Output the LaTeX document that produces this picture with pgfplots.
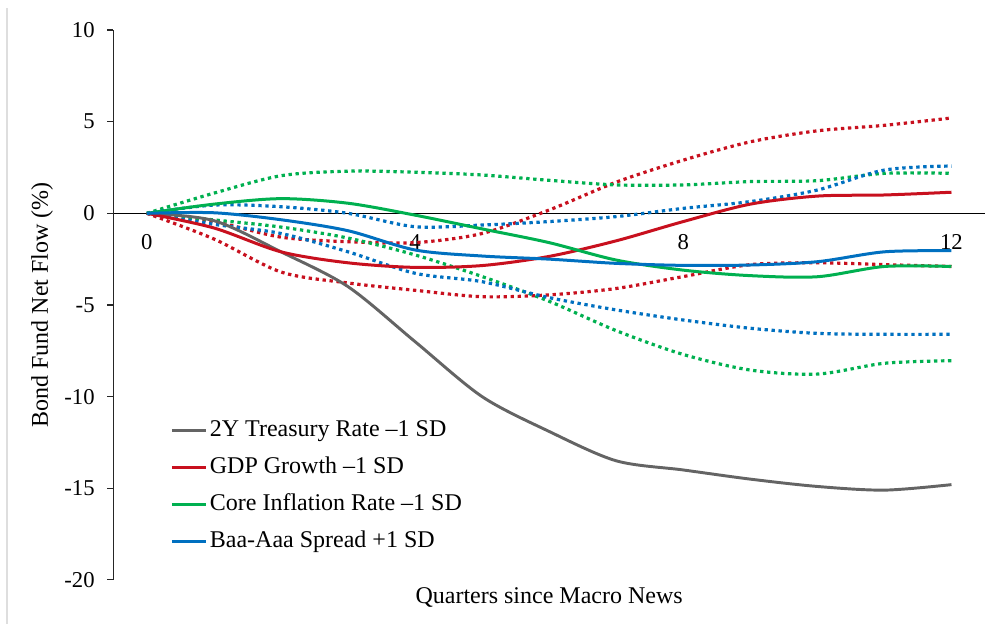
\documentclass[border=0pt]{standalone}
\usepackage{fontspec}
\setmainfont{Liberation Serif}
\usepackage{pgfplots}
\usepackage{pgfplotstable}
\pgfplotsset{compat=1.18}

\definecolor{cgray}{RGB}{100,100,100}
\definecolor{cred}{RGB}{200,16,30}
\definecolor{cgreen}{RGB}{0,176,80}
\definecolor{cblue}{RGB}{0,112,192}

\pgfplotstableread{
q gray red green blue redU redL greenU greenL blueU blueL
0 0 0 0 0 0 0 0 0 0 0
1 -0.4 -0.8 0.5 0.03 -0.45 -1.4 1.1 -0.36 0.45 -0.6
2 -2.1 -2.1 0.8 -0.35 -1.3 -3.2 2.05 -0.75 0.36 -1.1
3 -4.0 -2.7 0.55 -0.95 -1.55 -3.8 2.3 -1.35 0 -2.1
4 -7.0 -2.95 -0.1 -2.0 -1.6 -4.2 2.24 -2.27 -0.73 -3.27
5 -10.0 -2.85 -0.85 -2.33 -1.1 -4.55 2.09 -3.45 -0.64 -3.73
6 -11.9 -2.35 -1.6 -2.5 0.18 -4.45 1.8 -4.8 -0.45 -4.6
7 -13.5 -1.5 -2.55 -2.73 1.7 -4.1 1.55 -6.4 -0.18 -5.27
8 -14.0 -0.45 -3.1 -2.84 2.9 -3.45 1.55 -7.7 0.27 -5.82
9 -14.5 0.5 -3.4 -2.82 3.9 -2.8 1.73 -8.55 0.64 -6.27
10 -14.9 0.94 -3.46 -2.64 4.5 -2.7 1.78 -8.77 1.27 -6.55
11 -15.1 1.0 -2.9 -2.1 4.8 -2.8 2.18 -8.18 2.36 -6.6
12 -14.8 1.15 -2.9 -2.04 5.2 -2.9 2.18 -8.04 2.58 -6.6
}\data

\begin{document}
\begin{tikzpicture}
\path[use as bounding box] (-85pt,-33pt) rectangle (661.3pt,435pt);
\draw[black!13, line width=1.5pt] (-79.7pt,-33pt) -- (-79.7pt,429pt);
\begin{axis}[
  at={(0,0)}, anchor=south west,
  scale only axis, width=653.8pt, height=412.5pt,
  xmin=-0.5, xmax=12.5, ymin=-20, ymax=10,
  axis x line=middle, axis y line=left,
  axis line style={-},
  x axis line style={black, line width=0.75pt},
  y axis line style={black!85, line width=0.8pt},
  xtick={0,4,8,12}, ytick={-20,-15,-10,-5,0,5,10},
  yticklabels={-20,-15,-10,-5,0,5,10},
  xtick style={draw=none},
  ytick style={black!85, line width=0.8pt},
  tick align=outside, major tick length=4.5pt,
  /pgf/number format/assume math mode=true,
  tick label style={font=\fontsize{17}{20}\selectfont},
  xticklabel style={yshift=-8pt},
  yticklabel style={xshift=-6pt},
  xlabel={Quarters since Macro News},
  ylabel={Bond Fund Net Flow (\%)},
  label style={font=\fontsize{18}{21.6}\selectfont},
  xlabel style={at={(axis description cs:0.5,-0.0327)}, anchor=center},
  ylabel style={at={(axis description cs:-0.0818,0.5)}, anchor=center, rotate=0},
  legend style={at={(axis description cs:0.065,0.2995)}, anchor=north west,
    draw=none, fill=none, inner sep=0pt, row sep=5.75pt,
    font=\fontsize{18}{21.6}\selectfont,
    nodes={text height=14pt, text depth=4pt, inner sep=2pt},
    /tikz/every odd column/.style={column sep=0pt}},
  legend cell align=left,
  legend image code/.code={\draw[#1] (0pt,0pt) -- (25.5pt,0pt);},
  every axis plot/.append style={smooth, tension=0.5},
  dotstyle/.style={line width=2.4pt, dash pattern=on 2.5pt off 2.75pt},
]
\addplot[cred, dotstyle, forget plot] table[x=q, y=redU] {\data};
\addplot[cred, dotstyle, forget plot] table[x=q, y=redL] {\data};
\addplot[cgreen, dotstyle, forget plot] table[x=q, y=greenU] {\data};
\addplot[cgreen, dotstyle, forget plot] table[x=q, y=greenL] {\data};
\addplot[cblue, dotstyle, forget plot] table[x=q, y=blueU] {\data};
\addplot[cblue, dotstyle, forget plot] table[x=q, y=blueL] {\data};
\addplot[cgray, line width=2.2pt] table[x=q, y=gray] {\data};
\addlegendentry{2Y Treasury Rate --1 SD}
\addplot[cred, line width=2.25pt] table[x=q, y=red] {\data};
\addlegendentry{GDP Growth --1 SD}
\addplot[cgreen, line width=2.25pt] table[x=q, y=green] {\data};
\addlegendentry{Core Inflation Rate --1 SD}
\addplot[cblue, line width=2.25pt] table[x=q, y=blue] {\data};
\addlegendentry{Baa-Aaa Spread +1 SD}
\end{axis}
\end{tikzpicture}
\end{document}
